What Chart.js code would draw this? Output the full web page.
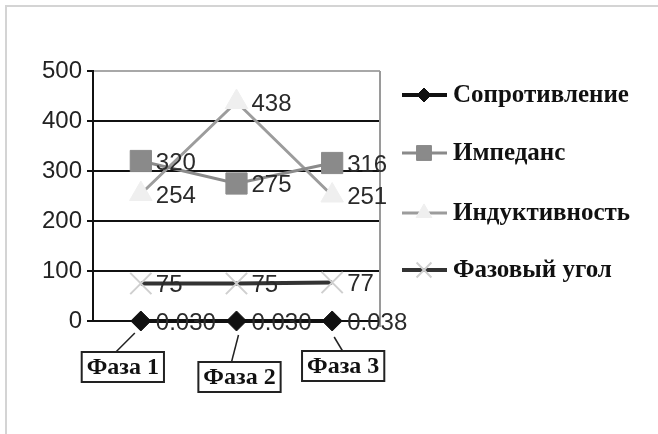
<!DOCTYPE html>
<html>
<head>
<meta charset="utf-8">
<script src="https://cdn.jsdelivr.net/npm/chart.js@4/dist/chart.umd.min.js"></script>
<style>
  body { margin: 0; background: #fff; }
  #wrap { width: 658px; height: 434px; }
</style>
</head>
<body>
<div id="wrap"><canvas id="chart" width="658" height="434"></canvas></div>
<script>
// values
const phases = ['Фаза 1', 'Фаза 2', 'Фаза 3'];
const resistance = [0.030, 0.030, 0.038];
const impedance = [320, 275, 316];
const inductance = [254, 438, 251];
const phaseAngle = [75, 75, 77];
const yTicks = [0, 100, 200, 300, 400, 500];

const serif = '"Liberation Serif", "DejaVu Serif", serif';
const sans = '"Liberation Sans", Arial, sans-serif';

// where each boxed category label sits relative to its point
const boxOffsets = [
    { dx: -18, dy: 46, lx1: -6, ly1: 12, lx2: -25, ly2: 31 },
    { dx: 3, dy: 56, lx1: 2, ly1: 14, lx2: -5, ly2: 41 },
    { dx: 11, dy: 45, lx1: 2, ly1: 16, lx2: 11, ly2: 31 }
];

// draws value labels, category boxes, frame and the legend
const decorPlugin = {
    id: 'decor',
    beforeDraw(chart) {
        const ctx = chart.ctx;
        ctx.save();
        ctx.strokeStyle = '#d4d4d4';
        ctx.lineWidth = 2;
        ctx.beginPath();
        ctx.moveTo(6, 434);
        ctx.lineTo(6, 6);
        ctx.lineTo(658, 6);
        ctx.stroke();
        ctx.restore();
    },
    afterDatasetsDraw(chart) {
        const ctx = chart.ctx;
        const area = chart.chartArea;
        ctx.save();
        // right edge of the plot
        ctx.strokeStyle = '#9a9a9a';
        ctx.lineWidth = 2;
        ctx.beginPath();
        ctx.moveTo(area.right, area.top);
        ctx.lineTo(area.right, area.bottom + 6);
        ctx.stroke();

        // value labels
        ctx.font = '24px ' + sans;
        ctx.fillStyle = '#2a2a2a';
        ctx.textBaseline = 'middle';
        ctx.textAlign = 'left';
        chart.data.datasets.forEach((ds, i) => {
            const meta = chart.getDatasetMeta(i);
            meta.data.forEach((pt, j) => {
                const v = ds.data[j];
                const txt = v < 1 ? v.toFixed(3) : String(v);
                ctx.fillText(txt, pt.x + 15, pt.y + 2);
            });
        });

        // boxed category labels with leader lines
        const xs = chart.scales.x;
        const y0 = chart.scales.y.getPixelForValue(0);
        ctx.font = 'bold 24px ' + serif;
        ctx.textAlign = 'center';
        phases.forEach((p, j) => {
            const px = xs.getPixelForValue(j);
            const o = boxOffsets[j];
            ctx.strokeStyle = '#222';
            ctx.lineWidth = 1.5;
            ctx.beginPath();
            ctx.moveTo(px + o.lx1, y0 + o.ly1);
            ctx.lineTo(px + o.lx2, y0 + o.ly2);
            ctx.stroke();
            const cx = px + o.dx, cy = y0 + o.dy;
            const w = ctx.measureText(p).width + 10, h = 30;
            ctx.fillStyle = '#fff';
            ctx.fillRect(cx - w / 2, cy - h / 2, w, h);
            ctx.lineWidth = 2;
            ctx.strokeRect(cx - w / 2, cy - h / 2, w, h);
            ctx.fillStyle = '#111';
            ctx.fillText(p, cx, cy + 1);
        });
        ctx.restore();
    },
    afterDraw(chart) {
        const ctx = chart.ctx;
        const rows = [95, 153, 213, 270];
        ctx.save();
        chart.data.datasets.forEach((ds, i) => {
            const y = rows[i];
            ctx.strokeStyle = ds.borderColor;
            ctx.lineWidth = ds.borderWidth;
            ctx.beginPath();
            ctx.moveTo(402, y);
            ctx.lineTo(447, y);
            ctx.stroke();
            ctx.fillStyle = ds.pointBackgroundColor;
            ctx.strokeStyle = ds.pointBorderColor;
            ctx.lineWidth = ds.pointBorderWidth;
            Chart.helpers.drawPoint(ctx, {
                pointStyle: ds.pointStyle,
                radius: ds.pointRadius * 0.7,
                borderWidth: ds.pointBorderWidth,
                rotation: 0
            }, 424, y);
            ctx.fillStyle = '#111';
            ctx.font = 'bold 25px ' + serif;
            ctx.textBaseline = 'middle';
            ctx.textAlign = 'left';
            ctx.fillText(ds.label, 453, y + 1);
        });
        ctx.restore();
    }
};

new Chart(document.getElementById('chart'), {
    type: 'line',
    data: {
        labels: phases,
        datasets: [
            {
                label: 'Сопротивление',
                data: resistance,
                borderColor: '#111',
                borderWidth: 4,
                pointStyle: 'rectRot',
                pointRadius: 10,
                pointBackgroundColor: '#111',
                pointBorderColor: '#111',
                pointBorderWidth: 1,
                clip: false
            },
            {
                label: 'Импеданс',
                data: impedance,
                borderColor: '#8a8a8a',
                borderWidth: 3,
                pointStyle: 'rect',
                pointRadius: 15,
                pointBackgroundColor: '#8a8a8a',
                pointBorderColor: '#8a8a8a',
                pointBorderWidth: 1,
                clip: false
            },
            {
                label: 'Индуктивность',
                data: inductance,
                borderColor: '#9c9c9c',
                borderWidth: 3,
                pointStyle: 'triangle',
                pointRadius: 13,
                pointBackgroundColor: '#efefef',
                pointBorderColor: '#efefef',
                pointBorderWidth: 1,
                clip: false
            },
            {
                label: 'Фазовый угол',
                data: phaseAngle,
                borderColor: '#333',
                borderWidth: 4,
                pointStyle: 'crossRot',
                pointRadius: 15,
                pointBackgroundColor: '#cfcfcf',
                pointBorderColor: '#cfcfcf',
                pointBorderWidth: 2,
                clip: false
            }
        ]
    },
    options: {
        responsive: false,
        animation: false,
        layout: { padding: { left: 0, right: 278, top: 71, bottom: 113 } },
        plugins: { legend: { display: false }, tooltip: { enabled: false } },
        elements: { line: { tension: 0 } },
        scales: {
            x: {
                offset: true,
                grid: { display: false, drawTicks: false },
                border: { display: false },
                ticks: { display: false }
            },
            y: {
                min: 0,
                max: 500,
                afterBuildTicks: axis => { axis.ticks = yTicks.map(v => ({ value: v })); },
                afterFit: axis => { axis.width = 93; },
                grid: {
                    color: ctx => ctx.tick && ctx.tick.value === 500 ? '#a8a8a8' : '#111',
                    lineWidth: 2,
                    tickColor: '#111',
                    tickLength: 6
                },
                border: { color: '#111', width: 2 },
                ticks: {
                    color: '#222',
                    font: { family: sans, size: 24 },
                    padding: 5
                }
            }
        }
    },
    plugins: [decorPlugin]
});
</script>
</body>
</html>
